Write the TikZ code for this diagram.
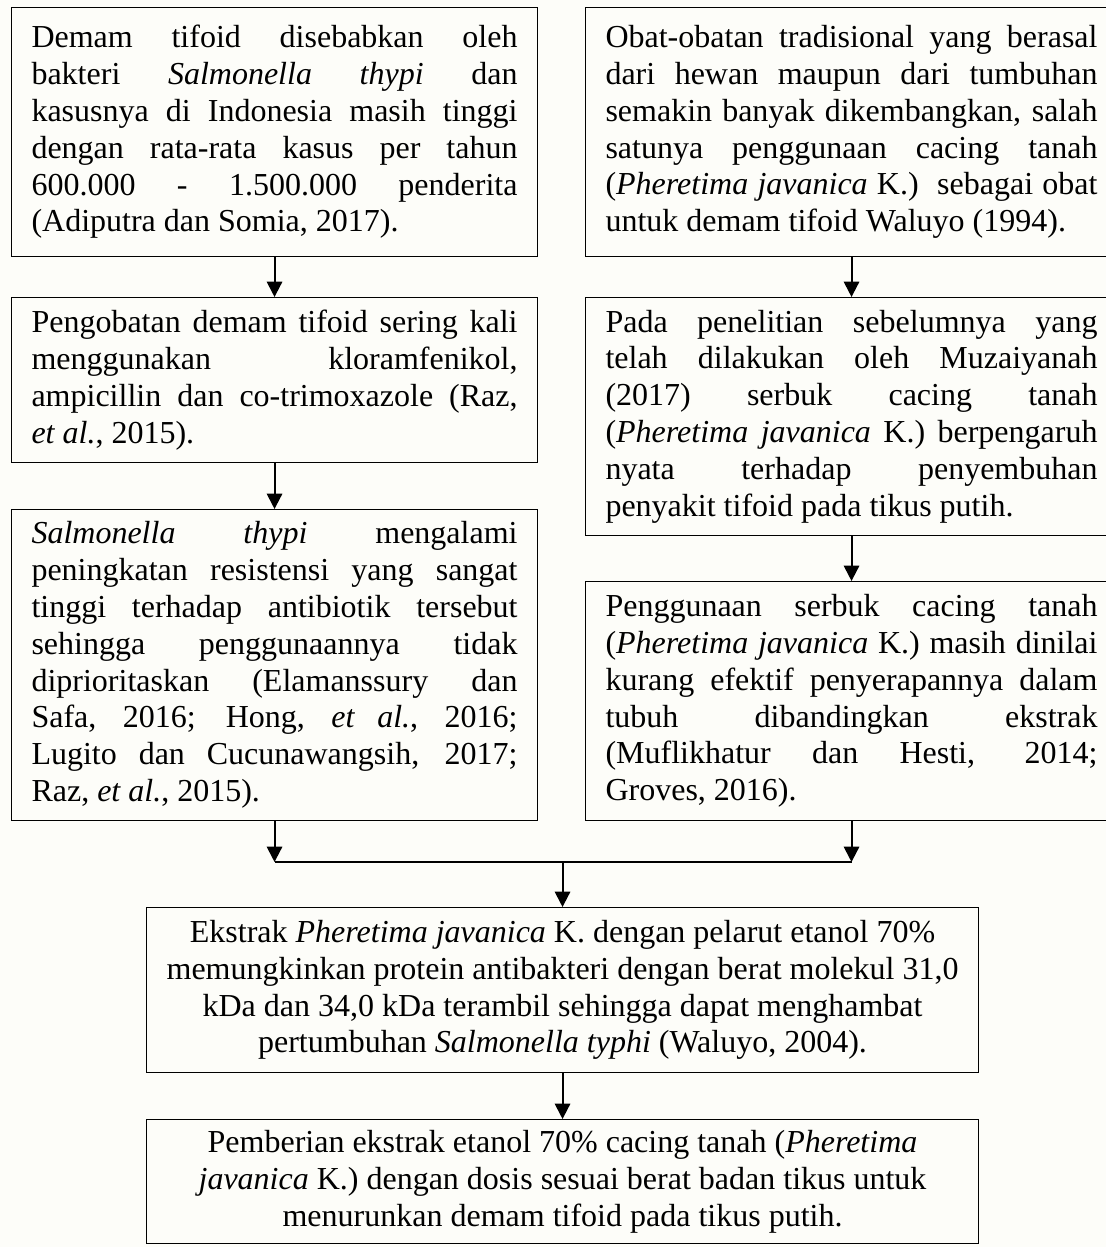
\documentclass[tikz,border=0pt]{standalone}
\usepackage{fontspec}
\setmainfont{Liberation Serif}[RawFeature={-liga}]
\usetikzlibrary{arrows.meta}
\definecolor{bgcream}{RGB}{253,253,249}
\begin{document}
\begin{tikzpicture}[x=0.75pt,y=-0.75pt,
  txt/.style={font=\fontsize{24}{27.6}\selectfont},
  box/.style={txt,draw=black,line width=0.8pt,anchor=north west,align=justify,inner xsep=15pt,inner ysep=0pt,
    execute at begin node={\tolerance=10000\relax\pretolerance=-1\relax\hyphenpenalty=10000\relax\hbadness=10000\relax}},
  cbox/.style={txt,draw=black,line width=0.8pt,anchor=north west,align=center,inner sep=0pt,minimum width=624pt},
  arr/.style={line width=1.5pt,-{Triangle[length=11.5pt,width=11.5pt]}},
  ln/.style={line width=1.5pt}]
\fill[bgcream] (0,0) rectangle (1106,1247);
\useasboundingbox (0,0) rectangle (1106,1247);

\node[box,text width=364.5pt,minimum height=186.75pt] (A) at (11,7) {%
Demam tifoid disebabkan oleh\linebreak
bakteri \textit{Salmonella thypi} dan\linebreak
kasusnya di Indonesia masih tinggi\linebreak
dengan rata-rata kasus per tahun\linebreak
600.000 - 1.500.000 penderita\linebreak
(Adiputra dan Somia, 2017).};

\node[box,text width=369pt,minimum height=186.75pt] (B) at (585,7) {%
Obat-obatan tradisional yang berasal\linebreak
dari hewan maupun dari tumbuhan\linebreak
semakin banyak dikembangkan, salah\linebreak
satunya penggunaan cacing tanah\linebreak
(\textit{Pheretima javanica} K.)\ \ sebagai obat\linebreak
untuk demam tifoid Waluyo (1994).};

\node[box,text width=364.5pt,minimum height=123.75pt] (C) at (11,297) {%
Pengobatan demam tifoid sering kali\linebreak
menggunakan kloramfenikol,\linebreak
ampicillin dan co-trimoxazole (Raz,\linebreak
\textit{et al.}, 2015).};

\node[box,text width=369pt,minimum height=178.5pt] (D) at (585,297) {%
Pada penelitian sebelumnya yang\linebreak
telah dilakukan oleh Muzaiyanah\linebreak
(2017) serbuk cacing tanah\linebreak
(\textit{Pheretima javanica} K.) berpengaruh\linebreak
nyata terhadap penyembuhan\linebreak
penyakit tifoid pada tikus putih.};
% the reference clips the descenders of this box's last line
\fill[bgcream] ([xshift=1pt,yshift=0.6pt]D.south west) rectangle ([xshift=-1pt,yshift=9.5pt]D.south east);

\node[box,text width=364.5pt,minimum height=233.25pt] (E) at (11,509) {%
\textit{Salmonella thypi} mengalami\linebreak
peningkatan resistensi yang sangat\linebreak
tinggi terhadap antibiotik tersebut\linebreak
sehingga penggunaannya tidak\linebreak
diprioritaskan (Elamanssury dan\linebreak
Safa, 2016; Hong, \textit{et al.}, 2016;\linebreak
Lugito dan Cucunawangsih, 2017;\linebreak
Raz, \textit{et al.}, 2015).};

\node[box,text width=369pt,minimum height=179.25pt] (F) at (585,581) {%
Penggunaan serbuk cacing tanah\linebreak
(\textit{Pheretima javanica} K.) masih dinilai\linebreak
kurang efektif penyerapannya dalam\linebreak
tubuh dibandingkan ekstrak\linebreak
(Muflikhatur dan Hesti, 2014;\linebreak
Groves, 2016).};

\node[cbox,minimum height=123.75pt] (G) at (146,907) {%
Ekstrak \textit{Pheretima javanica} K. dengan pelarut etanol 70\%\\
memungkinkan protein antibakteri dengan berat molekul 31,0\\
kDa dan 34,0 kDa terambil sehingga dapat menghambat\\
pertumbuhan \textit{Salmonella typhi} (Waluyo, 2004).};

\node[cbox,minimum height=93pt] (H) at (146,1119) {%
Pemberian ekstrak etanol 70\% cacing tanah (\textit{Pheretima}\\
\textit{javanica} K.) dengan dosis sesuai berat badan tikus untuk\\
menurunkan demam tifoid pada tikus putih.};

\draw[arr] (A.south) -- (C.north);
\draw[arr] (C.south) -- (E.north);
\draw[arr] (B.south) -- (D.north);
\draw[arr] (D.south) -- (F.north);

\coordinate (jy) at (0,862);
\coordinate (jL) at (E.south |- jy);
\coordinate (jR) at (F.south |- jy);
\coordinate (jM) at (G.north |- jy);
\draw[arr] (E.south) -- (jL);
\draw[arr] (F.south) -- (jR);
\draw[ln] (jL) -- (jR);
\draw[arr] (jM) -- (G.north);
\draw[arr] (G.south) -- (H.north);
\end{tikzpicture}
\end{document}
